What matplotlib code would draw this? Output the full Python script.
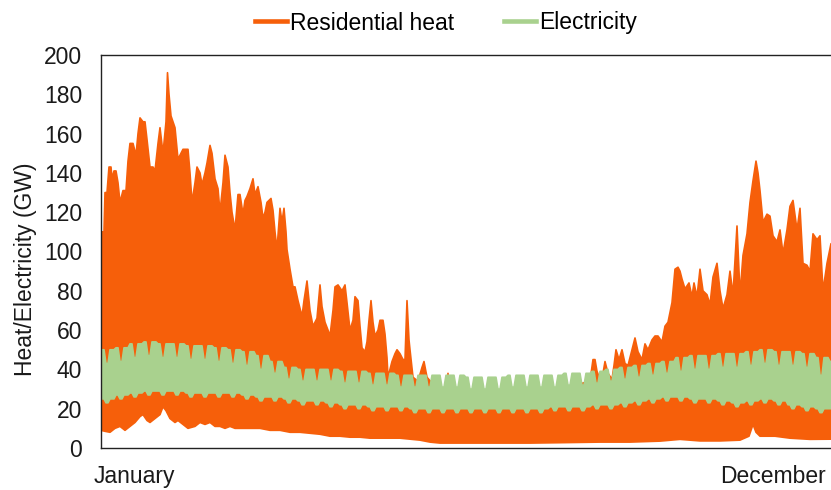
import numpy as np
import matplotlib
matplotlib.use("Agg")
import matplotlib.pyplot as plt
from matplotlib.lines import Line2D

plt.rcParams['font.family'] = ['Liberation Sans', 'DejaVu Sans']

# ---------------- data (day of year, GW) ----------------
series_names = ["Residential heat", "Electricity"]
month_labels = ["January", "December"]
month_label_days = [16.5, 336]

# upper envelope of hourly residential heat demand
heat_peak_days = [0, 0.5, 1.5, 2, 3, 4, 5, 5.5, 6.5, 7.5, 8.5, 9.5, 11, 12.5, 13.5, 14.5, 16,
                  17.5, 18.5, 19.5, 21, 22, 23, 24.5, 26, 27, 28.5, 29.5, 31, 32.5, 33.25, 34, 35,
                  37, 38.5, 40, 41, 43.5, 44.5, 45.5, 47, 48, 49.5, 50.5, 52, 53, 54.5, 55.5, 57,
                  58.5, 59.5, 61, 62, 63.5, 64.5, 65.5, 67, 68.5, 69.5, 71, 72, 73, 74.5, 76, 77,
                  78.5, 80, 81, 82, 83, 85, 86, 87, 88, 89.5, 90.5, 91.5, 92.5, 93, 94.5, 96, 97,
                  98.5, 100.5, 101.5, 103, 104.5, 106, 108, 109.5, 110.5, 112, 113.5, 114.5, 116,
                  117, 118.5, 120.5, 122, 123, 124.5, 126, 127, 128.5, 129.5, 130.5, 132, 133, 134,
                  135, 136, 137, 138.5, 139.5, 141, 142, 143, 143.5, 144.5, 145.5, 147, 148, 149.5,
                  151, 152, 153, 154, 154.5, 156, 158.5, 160.5, 161.5, 163, 165.5, 169.5, 173,
                  173.5, 174, 184.5, 199.5, 214.5, 229.5, 244.5, 246, 247, 248, 249.5, 251, 252,
                  253.5, 255.5, 256.5, 257.5, 259, 260.5, 262, 263.5, 264.5, 266, 267, 268.5,
                  270.5, 272, 273.5, 275.5, 277, 278.5, 280.5, 282, 283.5, 285.5, 287, 288.5,
                  289.5, 290.5, 292, 294, 295.5, 296.5, 298, 299.5, 301, 303, 304.5, 306, 308,
                  309.5, 311, 313, 314.5, 316, 318, 319, 319.5, 321, 323, 324.5, 326, 327.5, 328.5,
                  329.5, 331, 333, 334.5, 336, 338, 339.5, 341, 343, 344.5, 346, 348, 349.5, 351,
                  353, 354.5, 356, 358, 359.5, 361, 363, 365]
heat_peak_gw = [108, 110, 110, 130, 130, 143, 143, 137, 141, 141, 135, 125, 131, 131, 146, 155, 155,
                149, 160, 168, 166, 166, 157, 143, 143, 141, 155, 163, 150, 166, 191, 180, 169,
                163, 147, 150, 152, 152, 140, 125, 135, 143, 140, 134, 140, 145, 154, 150, 137,
                132, 120, 135, 149, 143, 130, 120, 111, 129, 129, 119, 126, 128, 132, 137, 129,
                133, 125, 117, 120, 125, 127, 121, 110, 101, 122, 115, 122, 110, 101, 91, 82, 82,
                75, 67, 75, 85, 70, 62, 66, 83, 72, 64, 60, 57, 70,
                82, 83, 80, 83, 74, 60, 65, 77, 75, 62, 51, 49, 54, 65,
                75, 64, 57, 60, 65, 65, 58, 46, 36, 40, 44, 48, 50, 48,
                45, 45, 75, 55, 50, 36, 34, 41, 44, 36, 33, 29, 28,
                38, 28, 26, 25, 27, 30, 34, 45, 45, 39, 35, 38, 44,
                38, 35, 42, 50, 45, 50, 43, 42, 46, 52, 56, 49,
                45, 53, 50, 55, 57, 57, 54, 62, 64, 74, 91, 92,
                90, 86, 81, 84, 77, 84, 77, 91, 80, 78, 73, 87, 94,
                80, 71, 78, 90, 78, 113, 90, 78, 98, 109, 125, 136, 146, 140,
                131, 115, 119, 118, 108, 105, 111, 99, 111, 123, 126, 111, 122, 94,
                93, 90, 109, 106, 108, 80, 94, 104]

# lower envelope of hourly residential heat demand
heat_low_days = [0, 2, 4.5, 7, 9.5, 12, 14.5, 17, 19.5, 21, 23, 24.5, 27, 29.5, 31, 32.5, 34.5, 37,
                 38.5, 41, 43.5, 47, 49.5, 52, 54.5, 57, 59.5, 62, 64.5, 67, 69.5, 74.5, 79.5,
                 84.5, 89.5, 94.5, 99.5, 104.5, 109.5, 114.5, 119.5, 124.5, 129.5, 134.5, 139.5,
                 144.5, 149.5, 154.5, 159.5, 164.5, 169.5, 189.5, 214.5, 229.5, 249.5, 264.5,
                 279.5, 289.5, 299.5, 309.5, 319.5, 324, 326, 327.5, 329.5, 337, 344.5, 354.5, 365]
heat_low_gw = [9, 8.5, 8, 10, 11, 9, 11, 13, 16, 17, 14, 13, 15, 17, 21, 19, 15, 13,
               14, 12, 10, 11, 13, 12, 13, 11, 11, 10, 11, 10, 10, 10, 10,
               9, 9, 8, 8, 7.5, 7, 6, 6, 5.5, 5.5, 5, 5,
               5, 5, 4.5, 4, 3, 2.5, 2.5, 2.5, 2.7, 3, 3,
               3.5, 4.4, 3.6, 3.6, 4, 6, 12, 8, 6, 6, 5, 4.4, 4.5]

# electricity: weekly daytime peak / night trough, working days and weekends
elec_weekday_high = [50, 51, 53, 54, 53, 53, 52, 52, 51, 50, 49, 47, 44, 41, 40, 40, 40, 39, 39, 38,
                     38, 37, 37, 37, 37, 37, 36, 36, 36, 37, 37, 37, 37, 38, 38, 39, 40, 41, 42, 43,
                     44, 46, 47, 47, 48, 48, 49, 50, 49, 49, 48, 46, 44]
elec_weekend_high = [43, 44, 46, 47, 46, 46, 45, 45, 44, 43, 42, 40, 38, 35, 34, 34, 34, 33, 33, 32,
                     32, 31, 31, 31, 31, 31, 30, 30, 30, 31, 31, 31, 31, 32, 32, 33, 34, 35, 36, 37,
                     38, 39, 40, 40, 41, 41, 42, 43, 42, 42, 41, 37, 38]
elec_weekday_low = [25, 27, 28, 29, 29, 29, 28, 28, 28, 28, 27, 26, 26, 25, 24, 24, 23, 22, 22, 21,
                    21, 21, 20, 20, 20, 20, 20, 20, 20, 20, 20, 20, 21, 21, 21, 22, 22, 23, 24, 25,
                    26, 26, 25, 25, 24, 23, 24, 25, 24, 22, 21, 20, 20]
elec_weekend_low = [23, 25, 26, 27, 27, 27, 26, 26, 26, 26, 25, 24, 24, 23, 22, 22, 21, 20, 20, 19,
                    19, 19, 18, 18, 18, 18, 18, 18, 18, 18, 18, 18, 19, 19, 19, 20, 20, 21, 22, 23,
                    24, 24, 23, 23, 22, 21, 22, 23, 22, 20, 19, 18, 18]

HEAT = '#F65F0A'
ELEC = '#A9D18E'
FS = 16.5

# ---------------- figure ----------------
W, H = 831, 490
fig = plt.figure(figsize=(W / 100, H / 100), dpi=100)
ax = fig.add_axes([101 / W, 42 / H, 739 / W, 393 / H])

# residential heat band (between hourly lows and highs)
hx = np.concatenate([heat_peak_days, heat_low_days[::-1]])
hy = np.concatenate([heat_peak_gw, heat_low_gw[::-1]])
ax.fill(hx, hy, color=HEAT, lw=1.2, ec=HEAT, joinstyle='round', zorder=2)

# electricity band
days = np.arange(365)
week = days // 7
weekend = np.isin(days % 7, [2, 3])
hi = np.where(weekend, np.array(elec_weekend_high)[week], np.array(elec_weekday_high)[week])
lo = np.where(weekend, np.array(elec_weekend_low)[week], np.array(elec_weekday_low)[week])
ex = days + 0.5
ax.fill(np.concatenate([[0], ex, [365], [365], ex[::-1], [0]]),
        np.concatenate([[hi[0]], hi, [hi[-1]], [lo[-1]], lo[::-1], [lo[0]]]),
        color=ELEC, lw=1.2, ec=ELEC, joinstyle='round', zorder=3)

ax.set_xlim(0, 369.5)
ax.set_ylim(0, 200)
ax.set_yticks(np.arange(0, 201, 20))
ax.set_xticks(month_label_days)
ax.set_xticklabels(month_labels)
ax.tick_params(axis='both', length=0, labelsize=FS, colors='#1a1a1a')
ax.tick_params(axis='y', pad=13.5)
ax.tick_params(axis='x', pad=12)
for s in ax.spines.values():
    s.set_color('#222222')
    s.set_linewidth(1.0)
    s.set_zorder(5)

ax.set_ylabel('Heat/Electricity (GW)', fontsize=FS, color='#1a1a1a')
ax.yaxis.set_label_coords((37 - 101) / 739, 0.455)

handles = [Line2D([], [], color=HEAT, lw=3.3), Line2D([], [], color=ELEC, lw=3.3)]
fig.legend(handles, series_names, loc='center', bbox_to_anchor=(446 / W, 1 - 23 / H),
           ncol=2, frameon=False, fontsize=FS, handlelength=1.4, handletextpad=0.12,
           columnspacing=2.2)

fig.savefig('out.png', dpi=100)
